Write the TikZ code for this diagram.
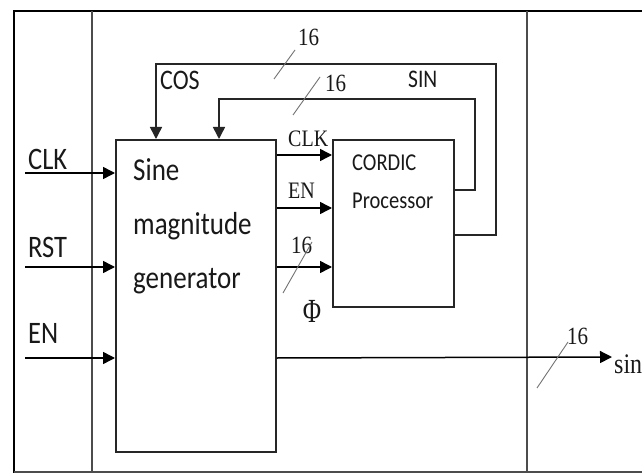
\documentclass[tikz,border=0pt]{standalone}
\usepackage{fontspec}
\usepackage{graphicx}
\setmainfont{Liberation Serif}
\newfontfamily\calfont{Carlito}
\usetikzlibrary{arrows.meta}
\newcommand{\tallt}[1]{\scalebox{1}[1.18]{#1}}
\begin{document}
\begin{tikzpicture}[x=1pt,y=-1pt,
  box/.style={draw=black!85, line width=1.7pt, inner sep=0pt, anchor=north west},
  tip/.style={-{Triangle[length=12pt,width=12pt]}},
  sig/.style={draw=black, line width=1.5pt, tip},
  wire/.style={draw=black!85, line width=1.5pt},
  bus/.style={draw=black!55, line width=0.9pt},
  sanslbl/.style={font=\calfont\fontsize{26.5}{26.5}\selectfont, inner sep=0pt, anchor=base west, text=black!90},
  seriflbl/.style={font=\fontsize{20}{20}\selectfont, inner sep=0pt, text=black!90},
  frameline/.style={draw=black, line width=2.6pt},
  divider/.style={draw=black!70, line width=1.3pt}]
\useasboundingbox (0,0) rectangle (642,473);
\fill[white] (0,0) rectangle (642,473);

% frame
\draw[frameline] (642,11) -- (14,11) -- (14,473);
\draw[divider] (14,472) -- (642,472);
\draw[divider] (92,11) -- (92,473);
\draw[divider] (527,11) -- (527,473);

% blocks
\node[box, minimum width=160pt, minimum height=312pt] (gen) at (115,139) {};
\node[box, minimum width=121pt, minimum height=167pt] (cordic) at (332,139) {};

\node[font=\calfont\fontsize{27}{54}\selectfont, inner sep=0pt, anchor=north west, align=left, text=black!90] (gentext) at (133,158)
  {\tallt{Sine}\\\tallt{magnitude}\\\tallt{generator}};
\node[font=\calfont\fontsize{20.5}{38}\selectfont, inner sep=0pt, anchor=north west, align=left, text=black!90] (cordictext) at (352,155)
  {\tallt{CORDIC}\\\tallt{Processor}};

% left inputs
\coordinate (inclk) at (25,173);
\coordinate (inrst) at (25,267);
\coordinate (inen) at (25,358);
\draw[sig] (inclk) -- (gen.west |- inclk);
\draw[sig] (inrst) -- (gen.west |- inrst);
\draw[sig] (inen) -- (gen.west |- inen);
\node[sanslbl] (lclk) at (28,170) {\tallt{CLK}};
\node[sanslbl] (lrst) at (28,257) {\tallt{RST}};
\node[sanslbl] (len) at (28,343) {\tallt{EN}};

% generator -> CORDIC
\coordinate (yclk) at (0,155);
\coordinate (yen) at (0,208);
\coordinate (yphi) at (0,267);
\draw[sig] (gen.east |- yclk) -- (cordic.west |- yclk);
\draw[sig] (gen.east |- yen) -- (cordic.west |- yen);
\draw[sig] (gen.east |- yphi) -- (cordic.west |- yphi);
\node[seriflbl, anchor=base west] (cclk) at (288,147) {\tallt{CLK}};
\node[seriflbl, anchor=base west] (cen) at (288,198) {\tallt{EN}};
\node[seriflbl, font=\fontsize{21}{21}\selectfont, anchor=base west] (n3) at (291,253) {\tallt{16}};
\draw[bus] (283,293) -- (312,242);
\node[seriflbl, font=\fontsize{25}{25}\selectfont] (phi) at (312,311) {\scalebox{1}[1.35]{Φ}};

% feedback COS (outer) and SIN (inner)
\coordinate (ycos) at (0,235);
\coordinate (ysin) at (0,190);
\coordinate (cosx) at (156,0);
\coordinate (sinx) at (219,0);
\draw[wire, tip]
  (cordic.east |- ycos) -- (496,235) -- (496,64) -- (156,64) -- (cosx |- gen.north);
\draw[wire, tip]
  (cordic.east |- ysin) -- (475,190) -- (475,99) -- (219,99) -- (sinx |- gen.north);
\node[sanslbl, font=\calfont\fontsize{24}{24}\selectfont] (lcos) at (160,90) {\tallt{COS}};
\node[sanslbl, font=\calfont\fontsize{21.5}{21.5}\selectfont] (lsin) at (408,88) {\tallt{SIN}};
\draw[bus] (274,79) -- (295,50);
\node[seriflbl, font=\fontsize{21}{21}\selectfont, anchor=base west] (n1) at (298,46) {\tallt{16}};
\draw[bus] (293,115) -- (320,77);
\node[seriflbl, font=\fontsize{21}{21}\selectfont, anchor=base west] (n2) at (325,92) {\tallt{16}};

% output
\coordinate (outend) at (612,357);
\draw[sig] (gen.east |- inen) -- (outend);
\draw[bus] (537,388) -- (568,342);
\node[seriflbl, font=\fontsize{21}{21}\selectfont, anchor=base west] (n4) at (567,344) {\tallt{16}};
\node[seriflbl, font=\fontsize{24}{24}\selectfont, anchor=base west] (sinout) at (614,373) {\tallt{sin}};
\end{tikzpicture}
\end{document}
